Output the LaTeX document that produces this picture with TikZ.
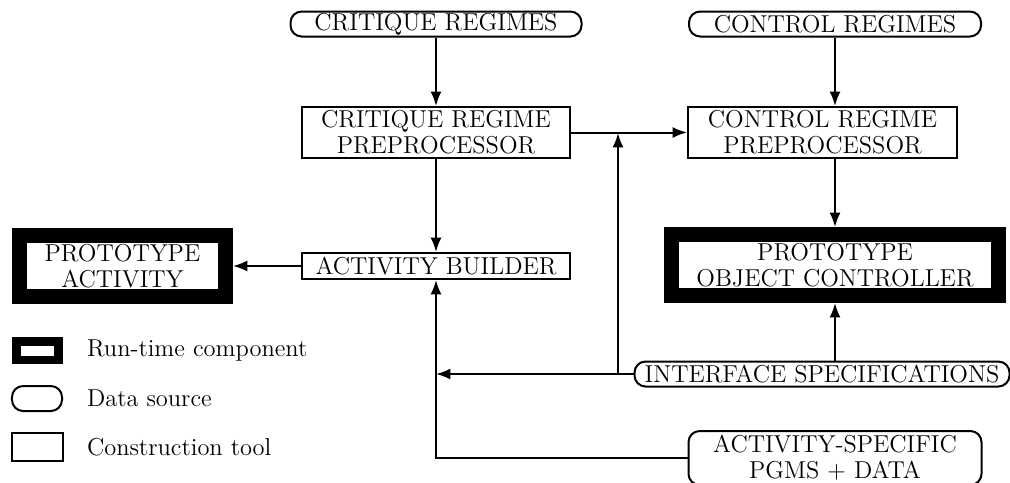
\documentclass[tikz,border=0pt]{standalone}
\usepackage{tikz}
\usetikzlibrary{arrows.meta}

\begin{document}
\begin{tikzpicture}[x=0.45pt, y=-0.45pt, line width=0.9pt,
        font=\fontsize{11}{11.7}\selectfont,
        datasrc/.style={draw, rounded corners=5pt, inner sep=0pt, align=center},
        tool/.style={draw, inner sep=0pt, align=center},
        runtime/.style={draw, line width=6.75pt, inner sep=0pt, align=center,
            minimum height=27.45pt},
        flow/.style={-{Latex[length=6.5pt,width=5pt]}}]
        \useasboundingbox (0,0) rectangle (1010,482);
        % data sources
        \node [datasrc, minimum width=130.95pt, minimum height=11.25pt] (crit) at (436,24) {CRITIQUE REGIMES};
        \node [datasrc, minimum width=131.4pt, minimum height=11.25pt] (ctrl) at (835,24) {CONTROL REGIMES};
        \node [datasrc, minimum width=168.75pt, minimum height=11.25pt] (iface) at (822,374) {INTERFACE SPECIFICATIONS};
        \node [datasrc, minimum width=131.85pt, minimum height=24.3pt] (pgms) at (835,458) {ACTIVITY-SPECIFIC\\PGMS + DATA};
        % construction tools
        \node [tool, minimum width=120.6pt, minimum height=22.95pt] (critpre) at (436,132.5) {CRITIQUE REGIME\\PREPROCESSOR};
        \node [tool, minimum width=121.05pt, minimum height=22.95pt] (ctrlpre) at (822.5,132.5) {CONTROL REGIME\\PREPROCESSOR};
        \node [tool, minimum width=120.6pt, minimum height=11.7pt] (builder) at (436,266) {ACTIVITY BUILDER};
        % run-time components
        \node [runtime, minimum width=92.7pt] (protoact) at (122.5,266) {PROTOTYPE\\ACTIVITY};
        \node [runtime, minimum width=147.15pt] (protoobj) at (835,265) {PROTOTYPE\\OBJECT CONTROLLER};
        % connectors
        \coordinate (join) at (618,133);
        \draw [flow] (crit) -- (critpre);
        \draw [flow] (critpre) -- (builder);
        \draw [flow] (builder) -- (protoact);
        \draw [flow] (critpre.east) -- (critpre.east -| ctrlpre.west);
        \draw [flow] (ctrl.south) -- (ctrlpre.north -| ctrl.south);
        \draw [flow] (ctrlpre.south -| protoobj.north) -- (protoobj.north);
        \draw [flow] (iface.north -| protoobj.south) -- (protoobj.south);
        \draw [flow] (iface.west -| join) -- (join);
        \draw [flow] (iface.west) -- (iface.west -| builder.south);
        \draw [flow] (pgms.west) -| (builder.south);
        % key
        \node [runtime, line width=3.8pt, minimum width=19pt, minimum height=8.3pt] (keyrt) at (37.5,350.5) {};
        \node [datasrc, minimum width=22.5pt, minimum height=11.25pt] (keyds) at (37,398.5) {};
        \node [tool, minimum width=22.95pt, minimum height=12.6pt] (keyct) at (37.5,447) {};
        \node [anchor=west, inner sep=0pt] (keyrtlbl) at (86,350.5) {Run-time component};
        \node [anchor=west, inner sep=0pt] (keydslbl) at (86,398.5) {Data source};
        \node [anchor=west, inner sep=0pt] (keyctlbl) at (86,447) {Construction tool};
    \end{tikzpicture}
\end{document}
